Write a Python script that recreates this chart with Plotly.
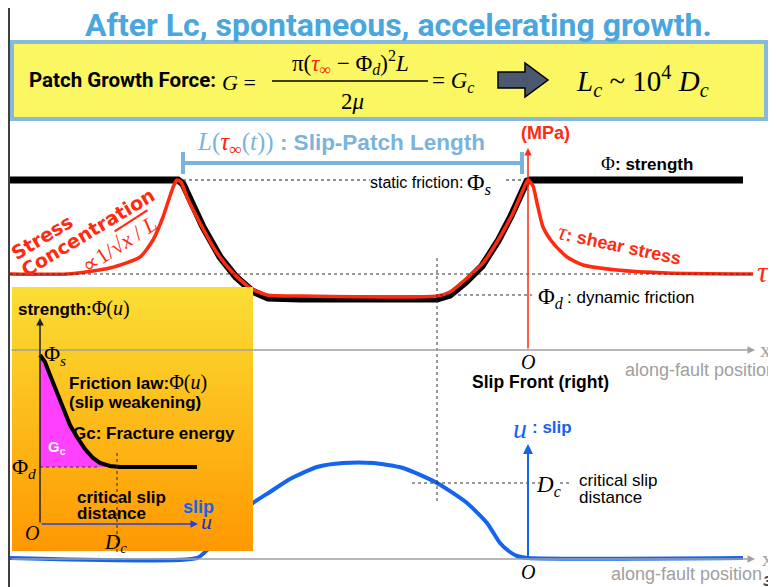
import plotly.graph_objects as go

# ---------------- data (in slide pixel units) -------------
# shear stress tau along the fault (upper panel)
tau_x = [10, 67, 110, 140, 153, 163, 170, 174, 177, 181, 187, 200, 217, 233, 250, 267, 300,
         437, 450, 467, 483, 500, 513, 523, 528, 533, 537, 543, 553, 567, 583, 617, 667, 753]
tau_y = [274, 274, 268, 257, 240, 217, 196, 185, 180, 182, 197, 223, 253, 273, 288, 295, 296,
         296, 292, 278, 263, 237, 213, 190, 180, 186, 203, 227, 243, 257, 265, 270, 273, 274]
# strength Phi along the fault (upper panel)
str_x = [10, 175, 178, 183, 190, 203, 220, 236, 252, 268, 300,
         437, 450, 466, 482, 498, 511, 521, 527, 530, 743]
str_y = [180, 180, 180, 184, 200, 227, 257, 277, 291, 298, 299,
         299, 295, 282, 266, 241, 216, 193, 181, 180, 180]
# slip u along the fault (lower panel)
slip_x = [10, 197, 207, 225, 253, 270, 290, 317, 343, 373, 403, 437, 467, 487, 500, 510, 517, 528, 743]
slip_y = [558, 558, 550, 530, 503, 492, 479, 467, 463, 463, 468, 483, 503, 523, 543, 552, 556, 558, 558]
# slip-weakening friction law (inset)
fric_u = [40, 45, 50, 55, 60, 65, 70, 77, 85, 93, 100, 110, 120, 197]
fric_phi = [355, 362, 375, 388, 401, 413, 425, 437, 449, 458, 463, 466, 467, 467]

# ------------------------------------------------------------------------------
W, H = 776, 587
OFF = 8  # page body margin
SANS = "Liberation Sans, Arial, sans-serif"
SERIF = "Liberation Serif, Times New Roman, serif"
COND = "Roboto, sans-serif"
RED = "#FF2A10"
LBLUE = "#7AB4DC"
BLUE = "#1464F0"
GRAY = "#A0A0A0"

fig = go.Figure()
shapes = []
ann = []


def line(x0, y0, x1, y1, color="black", width=1, dash="solid"):
    shapes.append(dict(type="line", x0=x0, y0=y0, x1=x1, y1=y1, xref="x", yref="y",
                       line=dict(color=color, width=width, dash=dash), layer="above"))


def text(x, y, s, size=14, color="black", family=SANS, xa="left", ya="middle", angle=0):
    ann.append(dict(x=x, y=y, xref="x", yref="y", text=s, showarrow=False,
                    font=dict(size=size, color=color, family=family),
                    xanchor=xa, yanchor=ya, textangle=angle))


def arrow(x0, y0, x1, y1, color, width=1.5, head=2, size=1):
    ann.append(dict(x=x1, y=y1, ax=x0, ay=y0, xref="x", yref="y", axref="x", ayref="y",
                    text="", showarrow=True, arrowhead=head, arrowsize=size,
                    arrowwidth=width, arrowcolor=color))


# slide border
line(9, 0, 9, H, "black", 1.5)

# title
text(398, 25, "<b>After Lc, spontaneous, accelerating growth.</b>", 32, "#4AA6DE", COND, "center")

# yellow equation box
shapes.append(dict(type="rect", x0=12, y0=42, x1=766, y1=119, xref="x", yref="y",
                   fillcolor="#FAF763", line=dict(color="#86B9DC", width=4), layer="below"))
text(27, 80, "<b>Patch Growth Force:</b>", 20.5, "black", COND)
text(220, 82, "<i>G</i> =", 22, "black", SERIF)
text(350, 62, "π(<span style='color:#FF2010'><i>τ</i><sub>∞</sub></span> − Φ<sub><i>d</i></sub>)<sup>2</sup><i>L</i>",
     23, "black", SERIF, "center")
line(272, 81, 428, 81, "black", 1.5)
text(352, 101, "2<i>μ</i>", 23, "black", SERIF, "center")
text(430, 82, "= <i>G<sub>c</sub></i>", 23, "black", SERIF)
shapes.append(dict(type="path", xref="x", yref="y",
                   path="M 498 72 L 525 72 L 525 63 L 548 80 L 525 97 L 525 88 L 498 88 Z",
                   fillcolor="#4A5870", line=dict(color="black", width=1.5)))
text(574, 81, "<i>L<sub>c</sub></i> ~ 10<sup>4</sup> <i>D<sub>c</sub></i>", 29, "black", SERIF)

# -------- upper panel (stress) --------
line(183, 180, 370, 180, "#222222", 1, "dot")
line(506, 180, 524, 180, "#222222", 1, "dot")
line(10, 274, 752, 274, "#333333", 1, "dot")
line(440, 295, 532, 295, "#333333", 1, "dot")
line(437, 258, 437, 503, "#333333", 1, "dot")
line(412, 483, 540, 483, "#333333", 1, "dot")
line(560, 483, 570, 483, "#333333", 1, "dot")

fig.add_trace(go.Scatter(x=str_x, y=str_y, mode="lines", line=dict(color="black", width=7),
                         hoverinfo="skip"))
fig.add_trace(go.Scatter(x=tau_x, y=tau_y, mode="lines", line=dict(color=RED, width=3.5, shape="spline",
                                                                  smoothing=0.6),
                         hoverinfo="skip"))

# slip patch length bar
line(183, 163, 522, 163, LBLUE, 4)
line(183, 152, 183, 174, LBLUE, 4)
line(522, 152, 522, 174, LBLUE, 4)
text(195, 143, "<span style='font-family:Liberation Serif;font-size:25px'><i>L</i>(<span style='color:#FF2010'><i>τ</i><sub>∞</sub></span>(<i>t</i>))</span> <b>: Slip-Patch Length</b>",
     22.5, LBLUE, SANS)

# axes
arrow(528, 350, 528, 148, RED, 1.5, 2, 1)
text(519, 133, "<b>(MPa)</b>", 18, RED, SANS)
arrow(10, 350, 755, 350, GRAY, 1.5, 2, 1)
text(758, 349, "x", 22, GRAY, SERIF)
text(528, 362, "<i>O</i>", 20, "black", SERIF, "center")
text(623, 370, "along-fault position", 18, GRAY, SANS)
text(470, 382, "<b>Slip Front (right)</b>", 17.5, "black", SANS)

text(368, 182, "static friction:", 16, "black", SANS)
text(465, 184, "Φ<sub><i>s</i></sub>", 24, "black", SERIF)
text(536, 298, "Φ<sub><i>d</i></sub>", 23, "black", SERIF)
text(565, 297, ": dynamic friction", 17, "black", SANS)
text(599, 163, "Φ", 19, "black", SERIF)
text(613, 164, "<b>: strength</b>", 17, "black", SANS)
text(620, 244, "<i><span style='font-family:Liberation Serif;font-size:24px'>τ</span></i><b>: shear stress</b>",
     18, RED, SANS, "center", "middle", 12)
text(779, 239, "<b>remote</b>", 17, RED, SANS, "right")
text(779, 254, "<b>stress</b>", 17, RED, SANS, "right")
text(755, 274, "<i>τ</i><sub>∞</sub>", 30, RED, SERIF)

text(42, 237, "<b>Stress</b>", 19, RED, "DejaVu Sans", "center", "middle", -31)
text(88, 232, "<b>Concentration</b>", 19, RED, "DejaVu Sans", "center", "middle", -31)
text(119, 244, "∝1/√<span style='text-decoration:overline'><i>x</i> / <i>L</i></span>", 22, RED, SERIF,
     "center", "middle", -33)

# -------- lower panel (slip) --------
arrow(10, 559, 755, 559, GRAY, 1.5, 2, 1)
text(760, 558, "x", 22, GRAY, SERIF)
fig.add_trace(go.Scatter(x=slip_x, y=slip_y, mode="lines", line=dict(color=BLUE, width=4, shape="spline",
                                                                    smoothing=0.6),
                         hoverinfo="skip"))
arrow(528, 558, 528, 444, BLUE, 2, 2, 1)
text(511, 428, "<i>u</i>", 28, BLUE, SERIF)
text(530, 427, "<b>: slip</b>", 17, BLUE, SANS)
text(534, 486, "<i>D<sub>c</sub></i>", 23, "black", SERIF)
text(577, 480, "critical slip", 17, "black", SANS)
text(577, 497, "distance", 17, "black", SANS)
text(528, 572, "<i>O</i>", 20, "black", SERIF, "center")
text(609, 574, "along-fault position", 18, GRAY, SANS)
text(761, 580, "<b><i>30</i></b>", 15, "#444444", SANS)

# -------- inset: slip-weakening friction law --------
fig.add_trace(go.Scatter(x=[12, 253, 253, 12, 12], y=[287, 287, 551, 551, 287], mode="lines",
                         fill="toself", line=dict(width=0, color="rgba(0,0,0,0)"),
                         fillgradient=dict(type="vertical",
                                           colorscale=[[0, "#FF9800"], [1, "#FADE34"]]),
                         hoverinfo="skip"))
fig.add_trace(go.Scatter(x=fric_u + [fric_u[0]], y=fric_phi + [fric_phi[-1]], mode="lines",
                         fill="toself", fillcolor="#FF40FF", line=dict(width=0),
                         hoverinfo="skip"))
fig.add_trace(go.Scatter(x=fric_u, y=fric_phi, mode="lines", line=dict(color="black", width=4),
                         hoverinfo="skip"))
line(40, 467, 100, 467, "#333333", 1, "dot")
line(117, 453, 117, 552, "#222222", 1, "dot")
text(16, 308, "<b>strength:</b><span style='font-family:Liberation Serif;font-size:20px'>Φ(<i>u</i>)</span>", 17, "black", SANS)
ann.append(dict(x=40, y=318, ax=40, ay=524, xref="x", yref="y", axref="x", ayref="y", text="",
                showarrow=True, arrowhead=2, arrowwidth=1.5, arrowcolor="#222222"))
ann.append(dict(x=198, y=524, ax=40, ay=524, xref="x", yref="y", axref="x", ayref="y", text="",
                showarrow=True, arrowhead=2, arrowwidth=1.5, arrowcolor="#2040E0"))
text(42, 355, "Φ<sub><i>s</i></sub>", 22, "black", SERIF)
text(67, 382, "<b>Friction law:</b><span style='font-family:Liberation Serif;font-size:20px'>Φ(<i>u</i>)</span>", 17, "black", SANS)
text(67, 402, "<b>(slip weakening)</b>", 17, "black", SANS)
text(71, 433, "<b>Gc: Fracture energy</b>", 17, "black", SANS)
text(46, 447, "<b>G<sub>c</sub></b>", 15, "white", SANS)
text(10, 468, "Φ<sub><i>d</i></sub>", 22, "black", SERIF)
text(75, 497, "<b>critical slip</b>", 17, "black", SANS)
text(75, 513, "<b>distance</b>", 17, "black", SANS)
text(181, 507, "<b>slip</b>", 18, "#1464F0", SANS)
text(199, 521, "<i>u</i>", 22, "#2030D0", SERIF)
text(32, 533, "<i>O</i>", 20, "black", SERIF, "center")
text(102, 543, "<i>D<sub>c</sub></i>", 21, "black", SERIF)

fig.update_layout(
    width=W - OFF, height=H - OFF, margin=dict(l=0, r=0, t=0, b=0),
    paper_bgcolor="white", plot_bgcolor="white", showlegend=False,
    xaxis=dict(range=[OFF, W], visible=False, fixedrange=True),
    yaxis=dict(range=[H, OFF], visible=False, fixedrange=True),
    shapes=shapes, annotations=ann,
)
fig.write_html("out.html")
